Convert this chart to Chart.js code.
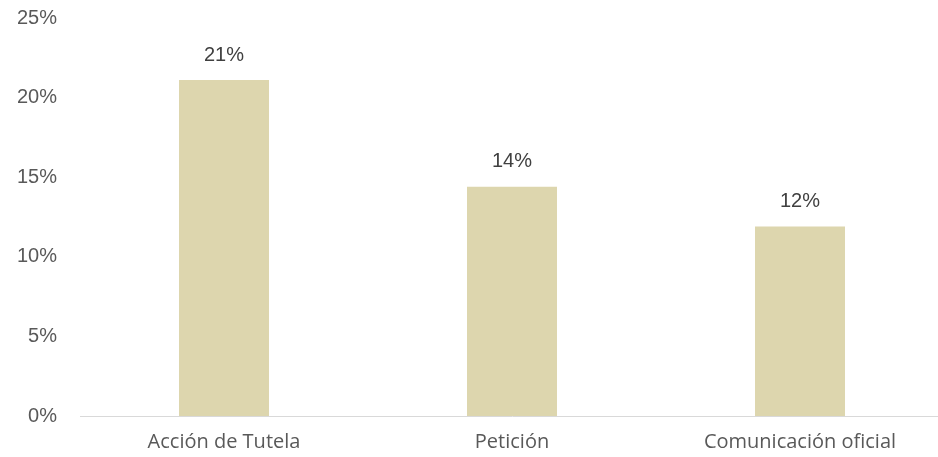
<!DOCTYPE html>
<html>
<head>
<meta charset="utf-8">
<script src="https://cdn.jsdelivr.net/npm/chart.js@4/dist/chart.umd.min.js"></script>
<style>
    body { margin: 0; overflow: hidden; background: #ffffff; }
    .wrap { position: relative; width: 944px; height: 457px; }
</style>
</head>
<body>
<div class="wrap"><canvas id="chart"></canvas></div>
<script>
const categories = ['Acción de Tutela', 'Petición', 'Comunicación oficial'];
const values = [21.1, 14.4, 11.9];
const valueLabels = ['21%', '14%', '12%'];
const yTicks = [0, 5, 10, 15, 20, 25];

// etiquetas encima de cada barra
const topLabels = {
    id: 'topLabels',
    afterDatasetsDraw(chart) {
        const ctx = chart.ctx;
        const meta = chart.getDatasetMeta(0);
        ctx.save();
        ctx.fillStyle = '#404040';
        ctx.font = '20px "Liberation Sans", Arial, sans-serif';
        ctx.textAlign = 'center';
        ctx.textBaseline = 'middle';
        meta.data.forEach((bar, i) => {
            ctx.fillText(valueLabels[i], bar.x, bar.y - 25);
        });
        ctx.restore();
    }
};

const ctx = document.getElementById('chart').getContext('2d');
new Chart(ctx, {
    type: 'bar',
    data: {
        labels: categories,
        datasets: [{
            data: values,
            backgroundColor: '#ddd6ae',
            barPercentage: 0.3125,
            categoryPercentage: 1
        }]
    },
    options: {
        responsive: true,
        maintainAspectRatio: false,
        animation: false,
        layout: { padding: { top: 0, bottom: -3, left: 0, right: 0 } },
        plugins: {
            legend: { display: false },
            tooltip: { enabled: false }
        },
        scales: {
            x: {
                grid: { display: false },
                border: { color: '#d9d9d9', width: 1 },
                ticks: {
                    color: '#595959',
                    padding: 6,
                    font: { family: '"Open Sans", sans-serif', size: 20 }
                }
            },
            y: {
                min: 0,
                max: 25,
                afterBuildTicks(scale) {
                    scale.ticks = yTicks.map(v => ({ value: v }));
                },
                afterFit(scale) {
                    scale.width = 80;
                    scale.paddingTop = 18;
                },
                grid: { display: false },
                border: { display: false },
                ticks: {
                    color: '#595959',
                    padding: 15,
                    font: { family: '"Liberation Sans", Arial, sans-serif', size: 20 },
                    callback: function(value) {
                        return value + '%';
                    }
                }
            }
        }
    },
    plugins: [topLabels]
});
</script>
</body>
</html>
